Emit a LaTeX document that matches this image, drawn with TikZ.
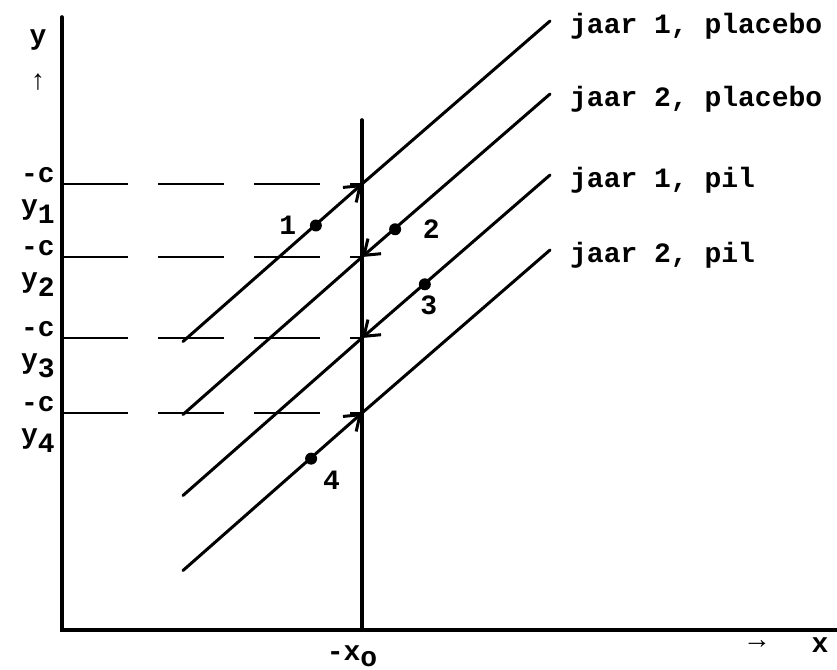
\documentclass[tikz,border=0pt]{standalone}
\usepackage{fontspec}
\setmonofont{Liberation Mono}
\usetikzlibrary{arrows.meta}

\begin{document}
\begin{tikzpicture}[x=0.5pt,y=-0.5pt,line width=1.5pt,line cap=round,
  font=\ttfamily\bfseries\fontsize{14}{17}\selectfont,
  guide/.style={line width=1.2pt,line cap=butt,dash pattern=on 33pt off 15pt},
  tip/.style={-{Straight Barb[length=7pt,width=10pt]}},
  dot/.style={circle,fill,inner sep=0pt,minimum size=6pt}]
\useasboundingbox (0,0) rectangle (837,670);
% axes and the line x = x_o
\coordinate (O) at (62,630);
\coordinate (ytop) at (62,17);
\coordinate (xend) at (837,630);
\coordinate (xotop) at (362,120);
\draw[line width=1.8pt] (ytop) -- (O) -- (xend);
\draw[line width=1.8pt] (xotop) -- (xotop |- O);
\node (ylab) at (38,40) {y};
\node (yarr) at (38,82) {↑};
\node (xarr) at (757,645) {→};
\node (xlab) at (820,645) {x};
\node[anchor=north,inner sep=2pt] (xo) at (352,640) {-x\raisebox{-0.4ex}{o}};
% levels -c y_i and the four lines
\foreach \i/\c in {1/184,2/257,3/338,4/413} {
  \coordinate (k\i) at (362,\c);
  \coordinate (s\i) at (183,\c+157.5);
  \coordinate (e\i) at (550,\c-163);
  \draw[guide] (k\i -| O) -- (k\i);
  \node (c\i) at (38,\c-9) {-c};
  \node (y\i) at (38,\c+28) {y\raisebox{-0.6ex}{\i}};
}
\draw[tip] (s1) -- (k1); \draw (k1) -- (e1);
\draw (s2) -- (k2); \draw[tip] (e2) -- (k2);
\draw (s3) -- (k3); \draw[tip] (e3) -- (k3);
\draw[tip] (s4) -- (k4); \draw (k4) -- (e4);
\node[anchor=west] (l1) at ([shift={(12,5)}]e1) {jaar 1, placebo};
\node[anchor=west] (l2) at ([shift={(12,5)}]e2) {jaar 2, placebo};
\node[anchor=west] (l3) at ([shift={(12,5)}]e3) {jaar 1, pil};
\node[anchor=west] (l4) at ([shift={(12,5)}]e4) {jaar 2, pil};
% observations
\path (s1) -- (e1) node[dot,pos=0.362,label={[label distance=2pt]left:1}] (d1) {};
\path (s2) -- (e2) node[dot,pos=0.578,label={[label distance=6pt]right:2}] (d2) {};
\path (s3) -- (e3) node[dot,pos=0.659,label={[label distance=-2pt,xshift=2pt]below:3}] (d3) {};
\path (s4) -- (e4) node[dot,pos=0.349,label={[label distance=-1pt]below right:4}] (d4) {};
\end{tikzpicture}
\end{document}
